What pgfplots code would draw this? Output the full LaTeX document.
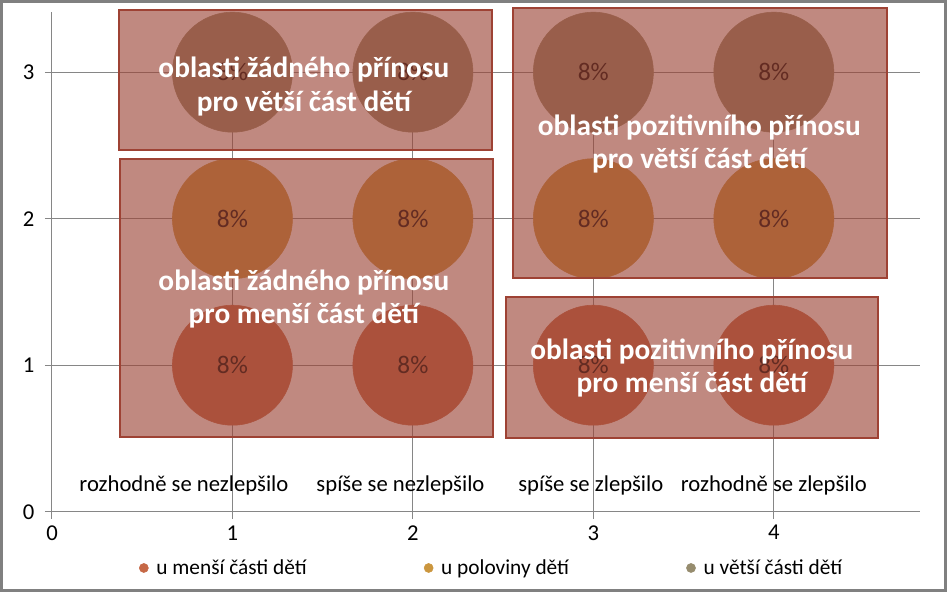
\documentclass[border=0pt]{standalone}
\usepackage{pgfplots}
\pgfplotsset{compat=1.18}
\usepackage{fontspec}
\setmainfont{Carlito}

\definecolor{gridc}{RGB}{134,134,134}
\definecolor{framec}{RGB}{128,128,128}
\definecolor{cmensi}{RGB}{198,104,70}
\definecolor{cpolo}{RGB}{203,150,62}
\definecolor{cvetsi}{RGB}{150,140,110}
\definecolor{rectfill}{RGB}{156,69,55}
\definecolor{rectline}{RGB}{158,66,52}

\begin{document}
\begin{tikzpicture}
\begin{axis}[
  name=ax,
  set layers=standard,
  scale only axis,
  width=651pt, height=374.7pt,
  xmin=0, xmax=4.81, ymin=0, ymax=3.41,
  axis x line=bottom, axis y line=left,
  axis line style={-, gridc, line width=0.75pt},
  xtick={0,1,2,3,4}, ytick={0,1,2,3},
  grid=major,
  major grid style={gridc, line width=0.75pt},
  tick align=outside,
  major tick length=5.25pt,
  tick style={gridc, line width=0.75pt},
  ticklabel style={font=\fontsize{17}{20}\selectfont},
  xticklabel style={yshift=-1.5pt},
  yticklabel style={xshift=-4.5pt},
  /pgf/number format/assume math mode=true,
  clip=false,
  legend columns=3,
  legend style={at={(0.507,-0.1126)}, anchor=center, draw=none, fill=none,
    font=\fontsize{16}{19}\selectfont,
    /tikz/every odd column/.append style={column sep=4pt},
    /tikz/every even column/.append style={column sep=86pt}},
  every node near coord/.append style={anchor=center, text=black, font=\fontsize{19}{22}\selectfont},
]
% bubliny: u menší části dětí
\addplot[only marks, mark=*, mark size=45pt, color=cmensi, forget plot,
  point meta=explicit, nodes near coords={\pgfmathprintnumber{\pgfplotspointmeta}\%}]
  coordinates {(1,1) [8] (2,1) [8] (3,1) [8] (4,1) [8]};
% u poloviny dětí
\addplot[only marks, mark=*, mark size=45pt, color=cpolo, forget plot,
  point meta=explicit, nodes near coords={\pgfmathprintnumber{\pgfplotspointmeta}\%}]
  coordinates {(1,2) [8] (2,2) [8] (3,2) [8] (4,2) [8]};
% u větší části dětí
\addplot[only marks, mark=*, mark size=45pt, color=cvetsi, forget plot,
  point meta=explicit, nodes near coords={\pgfmathprintnumber{\pgfplotspointmeta}\%}]
  coordinates {(1,3) [8] (2,3) [8] (3,3) [8] (4,3) [8]};

\addlegendimage{only marks, mark=*, mark size=3.4pt, color=cmensi}
\addlegendentry{u menší části dětí}
\addlegendimage{only marks, mark=*, mark size=3.4pt, color=cpolo}
\addlegendentry{u poloviny dětí}
\addlegendimage{only marks, mark=*, mark size=3.4pt, color=cvetsi}
\addlegendentry{u větší části dětí}

% oblasti (poloprůhledné obdélníky)
\begin{pgfonlayer}{axis descriptions}
\filldraw[fill=rectfill, fill opacity=0.635, draw=rectline, line width=1.5pt]
  (axis cs:0.371,2.466) rectangle (axis cs:2.438,3.425);
\filldraw[fill=rectfill, fill opacity=0.635, draw=rectline, line width=1.5pt]
  (axis cs:0.377,0.51) rectangle (axis cs:2.443,2.407);
\filldraw[fill=rectfill, fill opacity=0.635, draw=rectline, line width=1.5pt]
  (axis cs:2.555,1.595) rectangle (axis cs:4.626,3.44);
\filldraw[fill=rectfill, fill opacity=0.635, draw=rectline, line width=1.5pt]
  (axis cs:2.515,0.503) rectangle (axis cs:4.576,1.466);
\end{pgfonlayer}

\begin{pgfonlayer}{axis foreground}
\begin{scope}[every node/.style={text=white, align=center, font=\bfseries\fontsize{22}{25}\selectfont}]
\node at (axis cs:1.396,2.902) {oblasti žádného přínosu\\pro větší část dětí};
\node at (axis cs:1.396,1.452) {oblasti žádného přínosu\\pro menší část dětí};
\node at (axis cs:3.587,2.51) {oblasti pozitivního přínosu\\pro větší část dětí};
\node at (axis cs:3.546,0.98) {oblasti pozitivního přínosu\\pro menší část dětí};
\end{scope}
\end{pgfonlayer}

% popisky kategorií
\begin{scope}[every node/.style={text=black, font=\fontsize{17}{20}\selectfont}]
\node at (axis cs:0.731,0.182) {rozhodně se nezlepšilo};
\node at (axis cs:1.931,0.182) {spíše se nezlepšilo};
\node at (axis cs:2.986,0.182) {spíše se zlepšilo};
\node at (axis cs:4.0,0.182) {rozhodně se zlepšilo};
\end{scope}
\end{axis}
\coordinate (fsw) at ([shift={(-39pt,-60.2pt)}]ax.south west);
\coordinate (fne) at ([shift={(671.25pt,383.8pt)}]ax.south west);
\draw[line width=1.9pt, color=framec] ([shift={(0.95pt,0.95pt)}]fsw) rectangle ([shift={(-0.95pt,-0.95pt)}]fne);
\pgfresetboundingbox
\path[use as bounding box] (fsw) rectangle (fne);
\end{tikzpicture}
\end{document}
